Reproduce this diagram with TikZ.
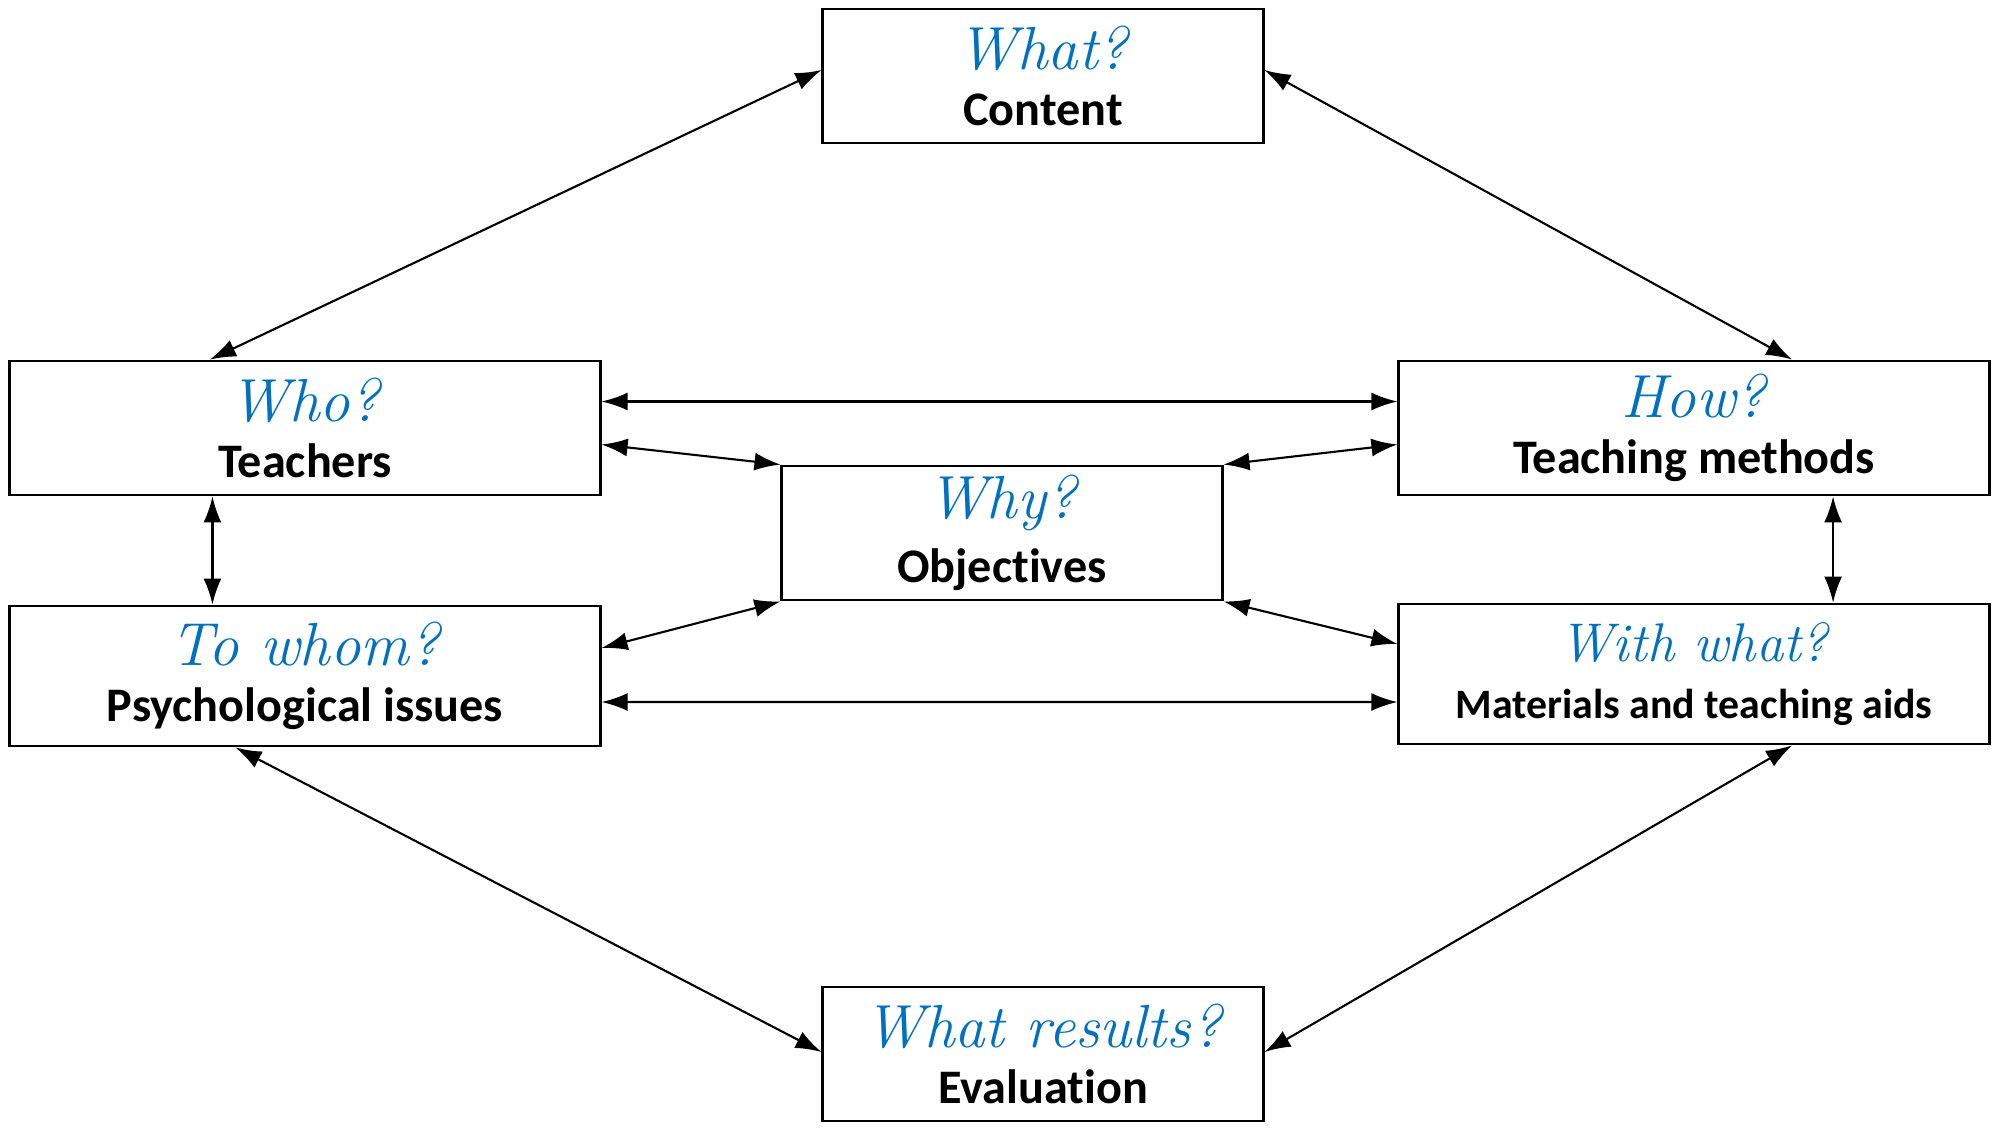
\documentclass[tikz,border=0pt]{standalone}
\usepackage{xcolor}
\usepackage{fontspec}
\usepackage{tikz}
\usetikzlibrary{arrows.meta,positioning}
\newfontfamily\lblfont[Ligatures=NoCommon]{Carlito}
\definecolor{qblue}{RGB}{0,112,192}
\newcommand{\qline}[1]{{\fontsize{17.3}{20}\selectfont\itshape\color{qblue}#1}}
\newcommand{\aline}[1]{{\lblfont\fontsize{13.7}{16}\selectfont\bfseries #1}}

\begin{document}
\begin{tikzpicture}[
    x=0.01cm, y=-0.01cm,
    >={Latex[length=2.6mm,width=1.8mm]},
    box/.style={
        rectangle,
        draw,
        thick,
        fill=white,
        inner sep=0pt,
        minimum height=1.34cm,
        align=center
    },
    small/.style={box, minimum width=4.4cm},
    wide/.style={box, minimum width=5.9cm}
]
\useasboundingbox (0,0) rectangle (2000,1130);
\node[small] (content) at (1043,76) {\qline{What?}\\[4pt]\aline{Content}};
\node[wide] (who) at (305,428) {\qline{Who?}\\[4pt]\aline{Teachers}};
\node[wide] (how) at (1694,428) {\qline{How?}\\[4pt]\aline{Teaching methods}};
\node[small] (why) at (1002,533) {\qline{Why?}\\[4pt]\aline{Objectives}};
\node[wide, minimum height=1.4cm] (towhom) at (305,676) {\qline{To whom?}\\[4pt]\aline{Psychological issues}};
\node[wide, minimum height=1.4cm] (withwhat) at (1694,674) {{\fontsize{15.5}{18}\selectfont\itshape\color{qblue}With what?}\\[4pt]{\lblfont\fontsize{11.9}{14}\selectfont\bfseries Materials and teaching aids}};
\node[small] (results) at (1043,1054) {\qline{What results?}\\[4pt]\aline{Evaluation}};

\draw[<->, semithick] ([xshift=-0.95cm]who.north) -- ([yshift=0.06cm]content.west);
\draw[<->, semithick] ([yshift=0.06cm]content.east) -- ([xshift=0.98cm]how.north);
\draw[<->, semithick] ([yshift=0.265cm]who.east) -- ([yshift=0.265cm]how.west);
\draw[<->, semithick] ([yshift=-0.165cm]who.east) -- (why.north west);
\draw[<->, semithick] ([yshift=-0.165cm]how.west) -- (why.north east);
\draw[<->, semithick] ([xshift=-0.925cm]who.south) -- ([xshift=-0.925cm]towhom.north);
\draw[<->, semithick] ([xshift=1.39cm]how.south) -- ([xshift=1.39cm]withwhat.north);
\draw[<->, semithick] ([yshift=0.28cm]towhom.east) -- (why.south west);
\draw[<->, semithick] ([yshift=0.3cm]withwhat.west) -- (why.south east);
\draw[<->, semithick] ([yshift=-0.26cm]towhom.east) -- ([yshift=-0.28cm]withwhat.west);
\draw[<->, semithick] ([xshift=-0.695cm]towhom.south) -- ([yshift=0.02cm]results.west);
\draw[<->, semithick] ([xshift=0.98cm]withwhat.south) -- ([yshift=0.02cm]results.east);
\end{tikzpicture}
\end{document}
